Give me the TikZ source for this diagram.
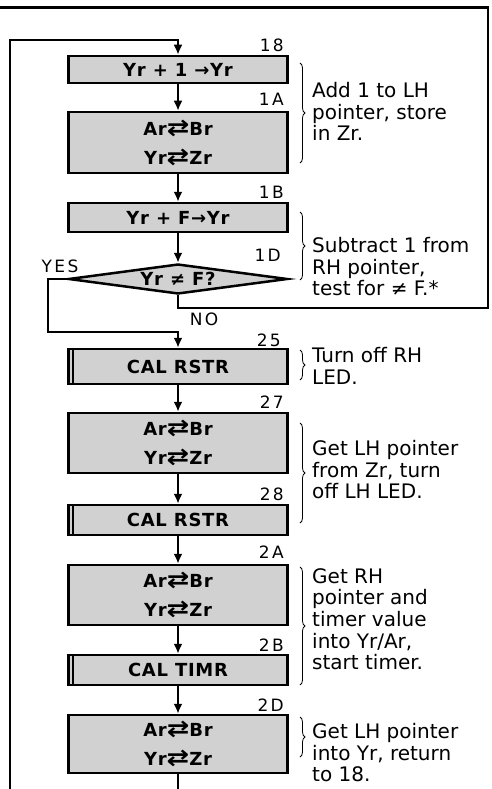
\documentclass[tikz,border=0pt]{standalone}
\usepackage{fontspec}
\setmainfont{DejaVu Sans}
\newfontfamily\boxfamily[LetterSpace=4]{DejaVu Sans}
\newfontfamily\labfamily[LetterSpace=14]{DejaVu Sans}
\usetikzlibrary{arrows.meta,shapes.geometric,decorations.pathreplacing}
\newcommand\boxtxt{\boxfamily\fontsize{18}{29}\selectfont\bfseries}
\newcommand\sidetxt{\fontsize{20}{21.7}\selectfont}
\newcommand\labtxt{\labfamily\fontsize{17}{19}\selectfont}
\newcommand\xch{\scalebox{1.5}[1.25]{⇄}}
\begin{document}
\begin{tikzpicture}[x=1pt,y=-1pt,
  line/.style={line width=2.5pt,line join=miter},
  arr/.style={line width=2.5pt,line join=miter,-{Latex[length=10pt,width=9pt]}},
  flowbox/.style={draw,line width=2.5pt,fill=black!18,minimum width=219pt,inner sep=0pt,font=\boxtxt,align=center},
  subline/.style={line width=1.6pt},
  decision/.style={draw,line width=2.5pt,fill=black!18,diamond,aspect=7.3,minimum width=219pt,minimum height=30pt,inner sep=0pt,font=\boxtxt},
  steplabel/.style={anchor=base east,font=\labtxt,inner sep=0pt},
  branchlabel/.style={anchor=base,font=\labtxt,inner sep=0pt},
  note/.style={anchor=north west,font=\sidetxt,align=left,inner sep=0pt},
  bracemark/.style={decorate,decoration={brace,amplitude=5pt},line width=0.8pt}
]
\useasboundingbox (0,0) rectangle (491,789);

% boxes
\node[flowbox,minimum height=27pt] (b18) at (178,69.5) {Yr + 1 →Yr};
\node[flowbox,minimum height=61pt] (b1A) at (178,142.5) {Ar\xch Br\\Yr\xch Zr};
\node[flowbox,minimum height=29pt] (b1B) at (178,217.5) {Yr + F→Yr};
\node[decision] (d1D) at (178,279) {Yr ≠ F?};
\node[flowbox,minimum height=35pt] (b25) at (178,366.5) {CAL RSTR};
\node[flowbox,minimum height=60pt] (b27) at (178,443) {Ar\xch Br\\Yr\xch Zr};
\node[flowbox,minimum height=30pt] (b28) at (178,520) {CAL RSTR};
\node[flowbox,minimum height=60pt] (b2A) at (178,595) {Ar\xch Br\\Yr\xch Zr};
\node[flowbox,minimum height=30pt] (b2B) at (178,670) {CAL TIMR};
\node[flowbox,minimum height=58pt] (b2D) at (178,744) {Ar\xch Br\\Yr\xch Zr};

% subroutine double bars
\draw[subline] ([xshift=5.5pt]b25.north west) -- ([xshift=5.5pt]b25.south west);
\draw[subline] ([xshift=5.5pt]b28.north west) -- ([xshift=5.5pt]b28.south west);
\draw[subline] ([xshift=5.5pt]b2B.north west) -- ([xshift=5.5pt]b2B.south west);

% step labels
\node[steplabel] (l18) at (284,52) {18};
\node[steplabel] (l1A) at (284,106) {1A};
\node[steplabel] (l1B) at (284,198) {1B};
\node[steplabel] (l1D) at (281,261) {1D};
\node[steplabel] (l25) at (281,346) {25};
\node[steplabel] (l27) at (284,408) {27};
\node[steplabel] (l28) at (284,500) {28};
\node[steplabel] (l2A) at (284,558) {2A};
\node[steplabel] (l2B) at (284,651) {2B};
\node[steplabel] (l2D) at (284,711) {2D};
\node[branchlabel] (yes) at (60,272) {YES};
\node[branchlabel] (no) at (204,325) {NO};

% connector coordinates
\coordinate (loopBot) at (10,789);
\coordinate (loopTop) at (10,40);
\coordinate (exitBot) at (178,789);
\coordinate (yesA) at (48,279);
\coordinate (yesB) at (48,332);
\coordinate (noA) at (178,308);
\coordinate (noB) at (488,308);
\coordinate (noC) at (488,7.5);
\coordinate (noD) at (0,7.5);

% connectors
\draw[arr] (loopBot) -- (loopTop) -| (b18.north);
\draw[arr] (b18) -- (b1A);
\draw[arr] (b1A) -- (b1B);
\draw[arr] (b1B) -- (d1D);
\draw[arr] (d1D.west) -- (yesA) -- (yesB) -| (b25.north);
\draw[line] (d1D.south) -- (noA) -- (noB) -- (noC) -- (noD);
\draw[arr] (b25) -- (b27);
\draw[arr] (b27) -- (b28);
\draw[arr] (b28) -- (b2A);
\draw[arr] (b2A) -- (b2B);
\draw[arr] (b2B) -- (b2D);
\draw[line] (b2D.south) -- (exitBot);

% braces
\draw[bracemark] (300,63) -- (300,163);
\draw[bracemark] (300,212) -- (300,280);
\draw[bracemark] (300,350) -- (300,380);
\draw[bracemark] (300,423) -- (300,523);
\draw[bracemark] (300,567) -- (300,685);
\draw[bracemark] (300,717) -- (300,757);

% notes
\node[note] (n1) at (312,82) {Add 1 to LH\\pointer, store\\in Zr.};
\node[note] (n2) at (312,237) {Subtract 1 from\\RH pointer,\\test for ≠ F.*};
\node[note] (n3) at (312,347) {Turn off RH\\LED.};
\node[note] (n4) at (312,440) {Get LH pointer\\from Zr, turn\\off LH LED.};
\node[note] (n5) at (312,568) {Get RH\\pointer and\\timer value\\into Yr/Ar,\\start timer.};
\node[note] (n6) at (312,723) {Get LH pointer\\into Yr, return\\to 18.};
\end{tikzpicture}
\end{document}
